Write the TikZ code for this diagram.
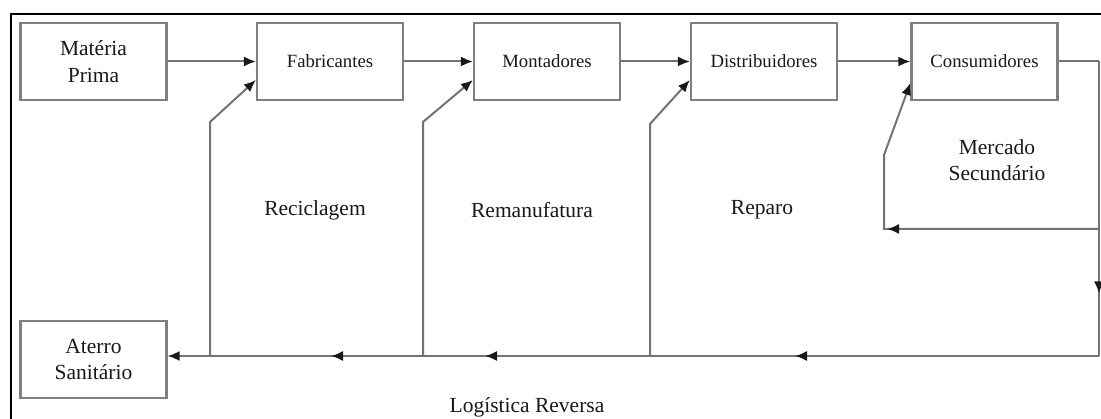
\documentclass[tikz,border=0pt]{standalone}
\usepackage{fontspec}
\setmainfont{Liberation Serif}
\usetikzlibrary{arrows.meta,decorations.markings}

\begin{document}
\begin{tikzpicture}[x=1pt,y=-1pt,
  big/.style={font=\fontsize{21.5}{26.5}\selectfont},
  small/.style={font=\fontsize{18.7}{22}\selectfont},
  stage/.style={draw=black!50,line width=2.2pt,rectangle,minimum width=146pt,
    minimum height=77pt,inner sep=0pt,align=center,text=black!90},
  label/.style={text=black!90,align=center,inner sep=0pt},
  conn/.style={draw=black!55,line width=2pt},
  head/.tip={Latex[length=12pt,width=10pt,color=black!90]},
  tip/.style={-head},
  midtips/.style={postaction={decorate,decoration={markings,#1}}},
]
\useasboundingbox (0,0) rectangle (1101,419);
\fill[white] (0,0) rectangle (1101,419);

% outer frame
\draw[line width=2pt] (11,419) -- (11,14) -- (1101,14);

% forward chain
\node[stage,big]   (mp)   at (93.5,61.5)  {Matéria\\Prima};
\node[stage,small] (fab)  at (330,61.5)   {Fabricantes};
\node[stage,small] (mont) at (547,61.5)   {Montadores};
\node[stage,small] (dist) at (764,61.5)   {Distribuidores};
\node[stage,small] (cons) at (984.5,61.5) {Consumidores};
\node[stage,big]   (lf)   at (93.5,359.5) {Aterro\\Sanitário};

\draw[conn,tip] (mp.east) -- (fab.west);
\draw[conn,tip] (fab.east) -- (mont.west);
\draw[conn,tip] (mont.east) -- (dist.west);
\draw[conn,tip] (dist.east) -- (cons.west);

% return path coordinates
\coordinate (r0) at (1099,61.5);
\coordinate (r1) at (1099,229);
\coordinate (r2) at (1099,356);
\coordinate (m1) at (884,229);
\coordinate (m2) at (884,155);
\coordinate (b1) at (210,356);
\coordinate (b2) at (423,356);
\coordinate (b3) at (650,356);
\coordinate (k1) at (210,122);
\coordinate (k2) at (423,122);
\coordinate (k3) at (650,124);

% consumers down to the reverse line
\draw[conn] (cons.east) -- (r0);
\draw[conn,midtips={mark=at position 232pt with {\arrow{head}}}]
  (r0) -- (r2);

% secondary market loop
\draw[conn,tip,midtips={mark=at position 212pt with {\arrow{head}}}]
  (r1) -- (m1) -- (m2) -- ([yshift=-21.5pt]cons.west);

% reverse logistics line
\draw[conn,tip,midtips={
    mark=at position 304pt with {\arrow{head}},
    mark=at position 614pt with {\arrow{head}},
    mark=at position 768pt with {\arrow{head}}}]
  (r2) -- (lf.east |- r2);

% recovery branches
\draw[conn,tip] (b1) -- (k1) -- ([yshift=-18.5pt]fab.west);
\draw[conn,tip] (b2) -- (k2) -- ([yshift=-18.5pt]mont.west);
\draw[conn,tip] (b3) -- (k3) -- ([yshift=-18.5pt]dist.west);

% free labels
\node[label,big] (lrec) at (315,210) {Reciclagem};
\node[label,big] (lrem) at (532,210) {Remanufatura};
\node[label,big] (lrep) at (762,210) {Reparo};
\node[label,big] (lms)  at (997,160) {Mercado\\Secundário};
\node[label,big] (llr)  at (527,407) {Logística Reversa};
\end{tikzpicture}
\end{document}
